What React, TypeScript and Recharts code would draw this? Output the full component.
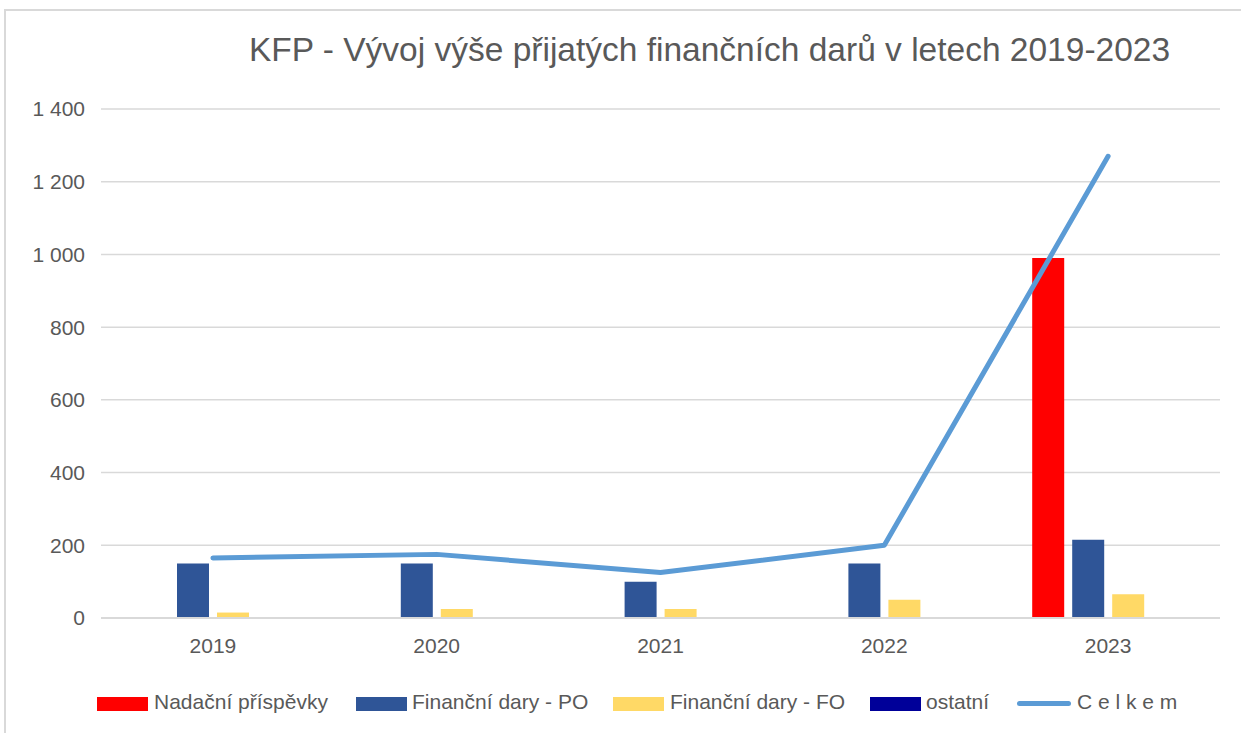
import React from "react";
import { ComposedChart, Bar, Line, XAxis, YAxis, CartesianGrid } from "recharts";

const years = ["2019", "2020", "2021", "2022", "2023"];
const nadacni = [0, 0, 0, 0, 990];
const darPO = [150, 150, 100, 150, 215];
const darFO = [15, 25, 25, 50, 65];
const ostatni = [0, 0, 0, 0, 0];
const celkem = [165, 175, 125, 200, 1270];
const yTicks = [0, 200, 400, 600, 800, 1000, 1200, 1400];

const seriesNames = ["Nadační příspěvky", "Finanční dary - PO", "Finanční dary - FO", "ostatní", "C e l k e m"];
const seriesColors = ["#FF0000", "#2F5597", "#FFD966", "#000099", "#5B9BD5"];

const data = years.map((y, i) => ({
  year: y,
  nadacni: nadacni[i],
  po: darPO[i],
  fo: darFO[i],
  ostatni: ostatni[i],
  celkem: celkem[i],
}));

const FONT = "'Liberation Sans', Arial, sans-serif";
const TXT = "#595959";

const fmt = (v: number) => (v >= 1000 ? `${Math.floor(v / 1000)} ${String(v % 1000).padStart(3, "0")}` : String(v));

const legendLefts = [91, 350, 607, 864, 1011];
const legendTextLefts = [148, 406, 664, 920, 1071];

export default function App() {
  return (
    <div
      style={{
        position: "absolute",
        left: 4,
        top: 9,
        width: 1237,
        height: 724,
        borderTop: "2px solid #d9d9d9",
        borderLeft: "2px solid #d9d9d9",
        background: "#fff",
        fontFamily: FONT,
        overflow: "hidden",
      }}
    >
      <div
        style={{
          position: "absolute",
          left: 0,
          width: 1407,
          top: 20,
          textAlign: "center",
          fontSize: 33.5,
          color: TXT,
          whiteSpace: "nowrap",
        }}
      >
        KFP - Vývoj výše přijatých finančních darů v letech 2019-2023
      </div>
      <div style={{ position: "absolute", left: -1, top: -2 }}>
        <ComposedChart
          width={1230}
          height={720}
          data={data}
          margin={{ top: 100, right: 15, bottom: 81, left: 0 }}
          barCategoryGap={36}
          barGap={8}
        >
          <CartesianGrid vertical={false} stroke="#d9d9d9" strokeWidth={1.5} />
          <XAxis
            dataKey="year"
            axisLine={{ stroke: "#d9d9d9", strokeWidth: 2 }}
            tickLine={false}
            tickSize={10}
            tickMargin={10}
            height={30}
            tick={{ fill: TXT, fontSize: 21, fontFamily: FONT }}
          />
          <YAxis
            domain={[0, 1400]}
            ticks={yTicks}
            interval={0}
            width={96}
            axisLine={false}
            tickLine={false}
            tickSize={8}
            tickMargin={8}
            tickFormatter={fmt}
            tick={{ fill: TXT, fontSize: 21, fontFamily: FONT }}
          />
          <Bar dataKey="nadacni" fill={seriesColors[0]} isAnimationActive={false} />
          <Bar dataKey="po" fill={seriesColors[1]} isAnimationActive={false} />
          <Bar dataKey="fo" fill={seriesColors[2]} isAnimationActive={false} />
          <Bar dataKey="ostatni" fill={seriesColors[3]} isAnimationActive={false} />
          <Line
            dataKey="celkem"
            stroke={seriesColors[4]}
            strokeWidth={5}
            strokeLinecap="round"
            strokeLinejoin="round"
            dot={false}
            activeDot={false}
            isAnimationActive={false}
          />
        </ComposedChart>
      </div>
      {seriesNames.map((name, i) => (
        <React.Fragment key={name}>
          {i < 4 ? (
            <div
              style={{
                position: "absolute",
                left: legendLefts[i],
                top: 686,
                width: 51,
                height: 14,
                background: seriesColors[i],
              }}
            />
          ) : (
            <div
              style={{
                position: "absolute",
                left: legendLefts[i],
                top: 690,
                width: 54,
                height: 5,
                borderRadius: 3,
                background: seriesColors[i],
              }}
            />
          )}
          <div
            style={{
              position: "absolute",
              left: legendTextLefts[i],
              top: 679,
              fontSize: 21,
              color: TXT,
              whiteSpace: "nowrap",
            }}
          >
            {name}
          </div>
        </React.Fragment>
      ))}
    </div>
  );
}
